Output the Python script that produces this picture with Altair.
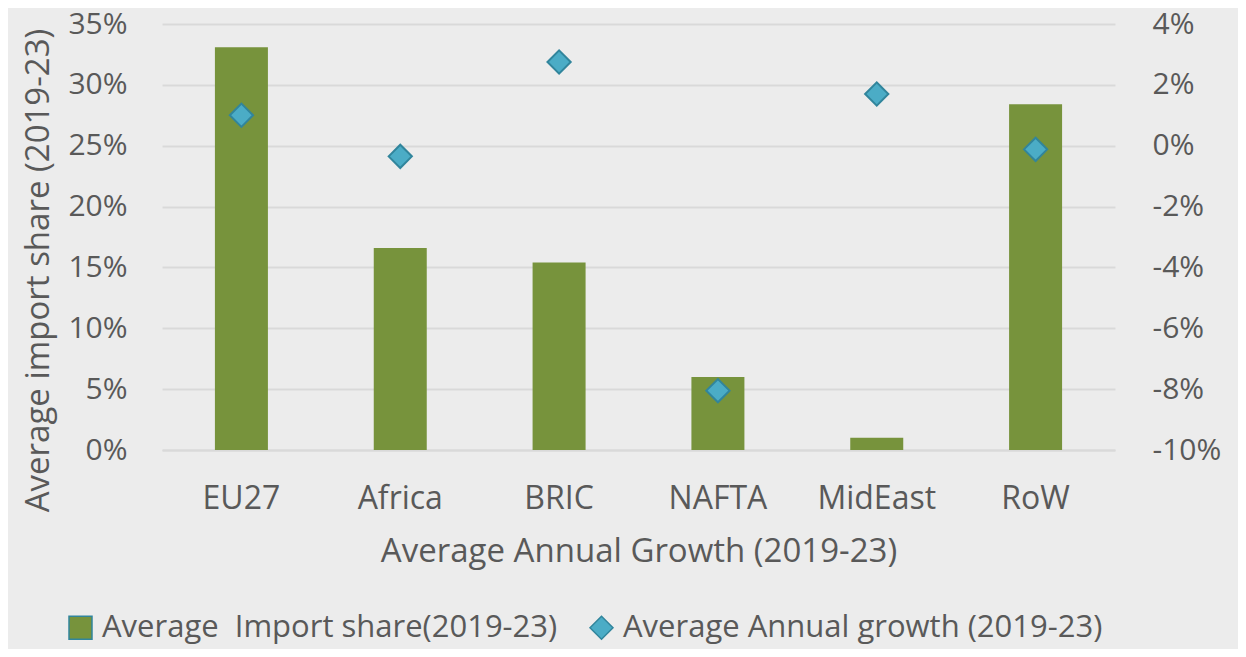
import altair as alt
import pandas as pd

regions = ["EU27", "Africa", "BRIC", "NAFTA", "MidEast", "RoW"]
import_share = [0.331, 0.166, 0.154, 0.060, 0.010, 0.284]
annual_growth = [0.010, -0.0035, 0.0275, -0.0805, 0.0170, -0.0012]
series_names = ["Average\u00a0 Import share(2019-23)", "Average Annual growth (2019-23)"]
left_ticks = [0, 0.05, 0.10, 0.15, 0.20, 0.25, 0.30, 0.35]
right_ticks = [-0.10, -0.08, -0.06, -0.04, -0.02, 0.0, 0.02, 0.04]

df = pd.DataFrame({"region": regions, "share": import_share, "growth": annual_growth})

FONT = "Open Sans"
GRAY = "#595959"

color_scale = alt.Scale(domain=series_names, range=["#77933C", "#4BACC6"])
shape_scale = alt.Scale(domain=series_names, range=["square", "diamond"])

legend = alt.Legend(
    orient="none", legendX=-97, legendY=588, direction="horizontal", title=None,
    labelFontSize=31, labelFont=FONT, labelColor=GRAY, symbolSize=529,
    columnPadding=28, labelOffset=6, labelLimit=700,
)

x_enc = alt.X(
    "region:N", sort=regions, title="Average Annual Growth (2019-23)",
    scale=alt.Scale(paddingInner=0, paddingOuter=0),
    axis=alt.Axis(labelAngle=0, labelFontSize=32, titleFontSize=33, labelPadding=33,
                  titlePadding=21, ticks=False, domainColor="#d9d9d9", domainWidth=2,
                  labelColor=GRAY, titleColor=GRAY, titleFontWeight="normal",
                  labelFont=FONT, titleFont=FONT, grid=False),
)

bars = alt.Chart(df).transform_calculate(series=f"'{series_names[0]}'").mark_bar(size=53).encode(
    x=x_enc,
    y=alt.Y("share:Q", scale=alt.Scale(domain=[0, 0.35], nice=False),
            axis=alt.Axis(values=left_ticks, format=".0%", title="Average import share (2019-23)",
                          labelFontSize=30, titleFontSize=33, labelPadding=35, titlePadding=12,
                          titleY=246,
                          ticks=False, domain=False, grid=True, gridColor="#d9d9d9", gridWidth=2,
                          labelColor=GRAY, titleColor=GRAY, titleFontWeight="normal",
                          labelFont=FONT, titleFont=FONT)),
    color=alt.Color("series:N", scale=color_scale, legend=legend),
)

points = alt.Chart(df).transform_calculate(series=f"'{series_names[1]}'").mark_point(
    filled=True, size=540, stroke="#31859C", strokeWidth=2, opacity=1
).encode(
    x=x_enc,
    y=alt.Y("growth:Q", scale=alt.Scale(domain=[-0.10, 0.04], nice=False),
            axis=alt.Axis(orient="right", values=right_ticks, title=None,
                          labelExpr="(datum.value < -0.0001 ? '-' : '') + format(abs(datum.value), '.0%')",
                          labelFontSize=30, labelPadding=37, ticks=False, domain=False, grid=False,
                          labelColor=GRAY, labelFont=FONT)),
    color=alt.Color("series:N", scale=color_scale, legend=legend),
    shape=alt.Shape("series:N", scale=shape_scale, legend=legend),
)

chart = alt.layer(bars, points).resolve_scale(y="independent").properties(
    width=953, height=426,
    autosize=alt.AutoSizeParams(type="none"),
    padding={"left": 154, "top": 16, "right": 123, "bottom": 199},
    background="#ececec",
).configure_view(stroke=None)

chart.save("out.html", embed_options={"renderer": "svg", "actions": False})
